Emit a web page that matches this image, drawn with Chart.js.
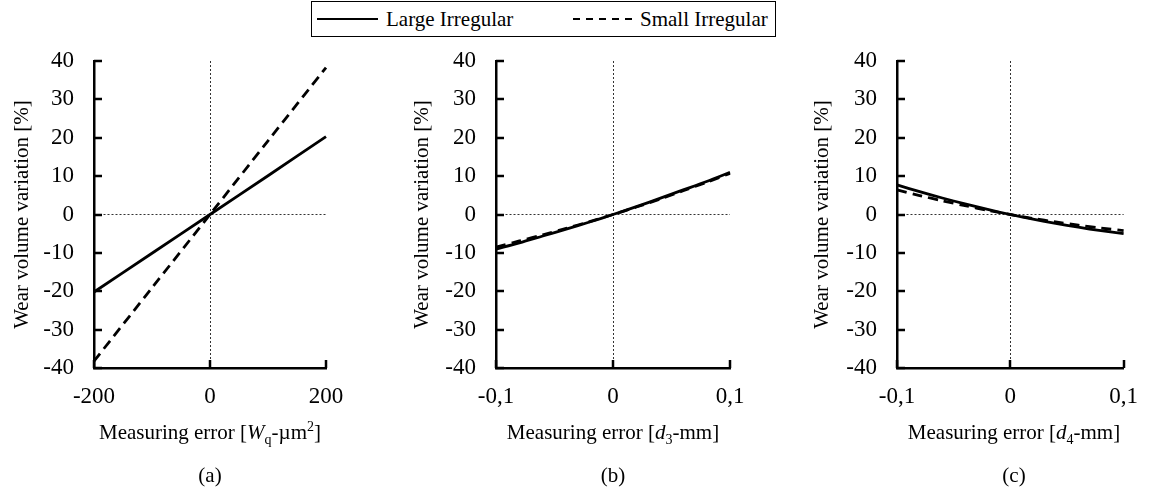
<!DOCTYPE html>
<html>
<head>
<meta charset="utf-8">
<script src="https://cdn.jsdelivr.net/npm/chart.js@4"></script>
<style>
  html, body { margin:0; padding:0; background:#fff; }
  body { width:1153px; height:493px; position:relative; overflow:hidden;
         font-family:'Liberation Serif','Times New Roman',serif; color:#000; }
  canvas { position:absolute; top:0; }
  .xt, .pl { position:absolute; text-align:center; font-size:21px; line-height:24px; white-space:nowrap; }
  .sub { font-size:14px; position:relative; top:5px; }
  .sup { font-size:14px; position:relative; top:-8px; }
  #legend { position:absolute; left:311px; top:1px; width:463px; height:34px; border:1.7px solid #000; }
  #legend span { position:absolute; top:5px; font-size:21px; line-height:24px; white-space:nowrap; }
  #legend svg { position:absolute; top:0; left:0; }
</style>
</head>
<body>
<div id="legend">
  <svg width="463" height="34">
    <line x1="5" y1="17" x2="66" y2="17" stroke="#000" stroke-width="2.2"/>
    <line x1="261" y1="17" x2="321" y2="17" stroke="#000" stroke-width="2.2" stroke-dasharray="7 6"/>
  </svg>
  <span style="left:74px">Large Irregular</span>
  <span style="left:328px">Small Irregular</span>
</div>

<canvas id="ca" width="380" height="493" style="left:0px"></canvas>
<canvas id="cb" width="380" height="493" style="left:400px"></canvas>
<canvas id="cc" width="353" height="493" style="left:800px"></canvas>

<div class="xt" style="left:94px;width:232px;top:420px">Measuring error [<i>W</i><span class="sub">q</span>-µm<span class="sup">2</span>]</div>
<div class="xt" style="left:496px;width:234px;top:420px">Measuring error [<i>d</i><span class="sub">3</span>-mm]</div>
<div class="xt" style="left:897px;width:234px;top:420px">Measuring error [<i>d</i><span class="sub">4</span>-mm]</div>
<div class="pl" style="left:94px;width:232px;top:463px">(a)</div>
<div class="pl" style="left:496px;width:234px;top:463px">(b)</div>
<div class="pl" style="left:897px;width:234px;top:463px">(c)</div>

<script>
// ---- data ----
const seriesNames = ['Large Irregular', 'Small Irregular'];
const yTickLabels = ['-40','-30','-20','-10','0','10','20','30','40'];

const xA = [-200, -100, 0, 100, 200];
const largeA = [-20.2, -10.1, 0, 10.1, 20.3];
const smallA = [-38.2, -19.1, 0, 19.2, 38.3];
const xTickLabelsA = ['-200', '0', '200'];

const xB = [-0.1, -0.08, -0.06, -0.04, -0.02, 0, 0.02, 0.04, 0.06, 0.08, 0.1];
const largeB = [-9.0, -7.4, -5.6, -3.8, -1.96, 0, 2.04, 4.2, 6.4, 8.6, 11.0];
const smallB = [-8.5, -6.9, -5.3, -3.6, -1.85, 0, 1.95, 4.0, 6.2, 8.4, 10.7];
const xTickLabelsB = ['-0,1', '0', '0,1'];

const xC = [-0.1, -0.08, -0.06, -0.04, -0.02, 0, 0.02, 0.04, 0.06, 0.08, 0.1];
const largeC = [7.7, 5.94, 4.3, 2.76, 1.32, 0, -1.22, -2.32, -3.32, -4.22, -5.0];
const smallC = [6.4, 4.94, 3.58, 2.3, 1.1, 0, -1.02, -1.94, -2.78, -3.54, -4.2];
const xTickLabelsC = ['-0,1', '0', '0,1'];

const FONT = "'Liberation Serif', 'Times New Roman', serif";
Chart.defaults.font.family = FONT;
Chart.defaults.color = '#000';

const insideTicks = {
  id: 'insideTicks',
  afterDatasetsDraw(chart) {
    const {ctx, chartArea, scales} = chart;
    ctx.save();
    ctx.strokeStyle = '#000';
    ctx.lineWidth = 2.5;
    ctx.beginPath();
    scales.y.ticks.forEach(t => {
      const p = Math.round(scales.y.getPixelForValue(t.value));
      ctx.moveTo(chartArea.left, p);
      ctx.lineTo(chartArea.left + 8, p);
    });
    scales.x.ticks.forEach(t => {
      const p = Math.round(scales.x.getPixelForValue(t.value));
      ctx.moveTo(p, chartArea.bottom);
      ctx.lineTo(p, chartArea.bottom - 8);
    });
    ctx.stroke();
    ctx.restore();
  }
};

function zeroColor(c) {
  return Math.abs(c.tick.value) < 1e-9 ? '#333' : 'rgba(0,0,0,0)';
}

function makeChart(id, xs, large, small, xMin, xMax, xStep, xLabels, yWidth, padRight) {
  const mk = arr => xs.map((x, i) => ({x: x, y: arr[i]}));
  new Chart(document.getElementById(id), {
    type: 'scatter',
    data: {
      datasets: [
        { label: seriesNames[0], data: mk(large), showLine: true, borderColor: '#000',
          borderWidth: 2.8, pointRadius: 0, tension: 0.3, clip: 4 },
        { label: seriesNames[1], data: mk(small), showLine: true, borderColor: '#000',
          borderWidth: 2.8, borderDash: [10, 6], pointRadius: 0, tension: 0.3, clip: 4 }
      ]
    },
    options: {
      responsive: false,
      devicePixelRatio: 1,
      animation: false,
      layout: { padding: { left: 0, right: padRight, top: 61, bottom: 0 } },
      plugins: { legend: { display: false }, tooltip: { enabled: false } },
      scales: {
        x: {
          type: 'linear', min: xMin, max: xMax,
          afterFit: s => { s.height = 125; },
          ticks: { stepSize: xStep, padding: 15, color: '#000',
                   font: { family: FONT, size: 23 },
                   callback: (v, i) => xLabels[i] },
          grid: { color: zeroColor, lineWidth: 1, drawTicks: false },
          border: { color: '#000', width: 2.5, dash: [2, 2] }
        },
        y: {
          type: 'linear', min: -40, max: 40,
          afterFit: s => { s.width = yWidth; },
          ticks: { stepSize: 10, padding: 20, color: '#000',
                   font: { family: FONT, size: 23 },
                   callback: (v, i) => yTickLabels[i] },
          grid: { color: zeroColor, lineWidth: 1, drawTicks: false },
          border: { color: '#000', width: 2.5, dash: [2, 2] },
          title: { display: true, text: 'Wear volume variation [%]', color: '#000',
                   font: { family: FONT, size: 21 }, padding: { top: 10, bottom: 0 } }
        }
      }
    },
    plugins: [insideTicks]
  });
}

makeChart('ca', xA, largeA, smallA, -200, 200, 200, xTickLabelsA, 94, 54);
makeChart('cb', xB, largeB, smallB, -0.1, 0.1, 0.1, xTickLabelsB, 96, 50);
makeChart('cc', xC, largeC, smallC, -0.1, 0.1, 0.1, xTickLabelsC, 97, 22);
</script>
</body>
</html>
